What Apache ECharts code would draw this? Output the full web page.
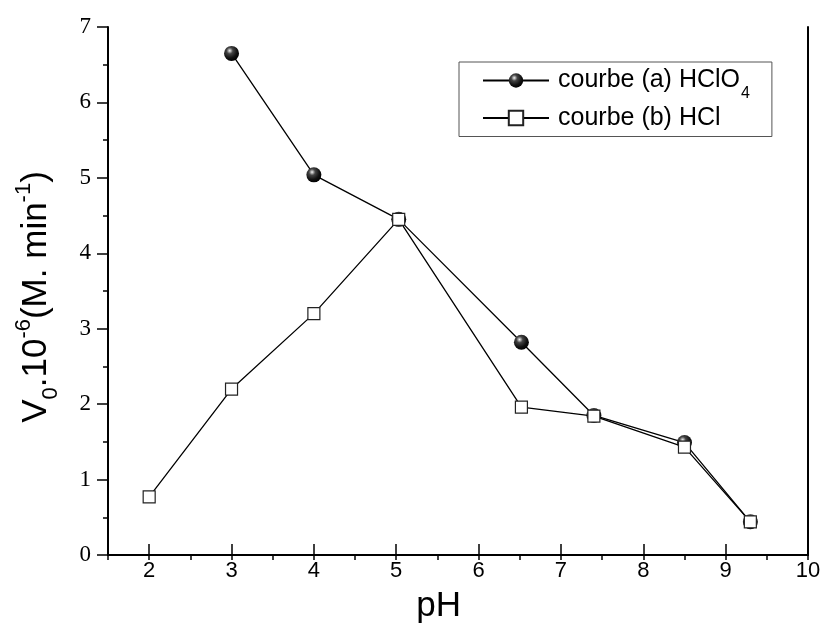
<!DOCTYPE html>
<html>
<head>
<meta charset="utf-8">
<script src="https://cdn.jsdelivr.net/npm/echarts@6/dist/echarts.min.js"></script>
<style>
  html, body { margin: 0; padding: 0; background: #fff; }
  #chart { width: 824px; height: 629px; }
</style>
</head>
<body>
<div id="chart"></div>
<script>
// data
var phA = [3, 4, 5.03, 6.52, 7.4, 8.5, 9.3];
var vA = [6.65, 5.04, 4.45, 2.82, 1.85, 1.49, 0.44];
var phB = [2, 3, 4, 5.03, 6.52, 7.4, 8.5, 9.3];
var vB = [0.77, 2.2, 3.2, 4.45, 1.96, 1.84, 1.43, 0.44];
var nameA = 'courbe (a) HClO4';
var nameB = 'courbe (b) HCl';

var pairs = function (xs, ys) {
    return xs.map(function (x, i) { return [x, ys[i]]; });
};

var myChart = echarts.init(document.getElementById('chart'));

var gLeft = 108, gRight = 16, gTop = 27, gBottom = 74;
var plotW = 824 - gLeft - gRight;
var xMin = 1.5, xMax = 10;
// second grid starts at x = 2 so integer ticks/labels line up with the main scale
var shift = (2 - xMin) / (xMax - xMin) * plotW;

var ball = {
    type: 'radial', x: 0.38, y: 0.32, r: 0.7,
    colorStops: [
        {offset: 0, color: '#f4f4f4'},
        {offset: 0.3, color: '#444'},
        {offset: 0.7, color: '#111'},
        {offset: 1, color: '#000'}
    ]
};

var option = {
    animation: false,
    backgroundColor: '#fff',
    grid: [
        {left: gLeft, right: gRight, top: gTop, bottom: gBottom},
        {left: gLeft + shift, right: gRight, top: gTop, bottom: gBottom}
    ],
    legend: {
        orient: 'vertical',
        left: 459,
        top: 62,
        padding: [6, 22, 6, 23],
        itemGap: 4,
        itemWidth: 66,
        itemHeight: 18,
        borderColor: '#555',
        borderWidth: 1,
        data: [nameA, nameB],
        formatter: function (n) {
            if (n === nameA) {
                return '{t|courbe (a) HClO}{s|4}';
            }
            return '{t|' + n + '}';
        },
        textStyle: {
            color: '#000',
            padding: [0, 0, 0, 4],
            rich: {
                t: {fontFamily: 'Liberation Sans', fontSize: 25, color: '#000', lineHeight: 30},
                s: {fontFamily: 'Liberation Sans', fontSize: 16, color: '#000', verticalAlign: 'bottom', lineHeight: 16, padding: [0, 0, -6, 1]}
            }
        }
    },
    xAxis: [{
        // main scale, half-unit ticks
        type: 'value', gridIndex: 0,
        min: xMin, max: xMax, interval: 0.5,
        axisLine: {show: true, lineStyle: {color: '#000', width: 2}},
        axisTick: {show: true, length: 5, lineStyle: {color: '#000', width: 1.5}},
        axisLabel: {show: false},
        splitLine: {show: false}
    }, {
        // integer ticks and labels
        type: 'value', gridIndex: 1,
        min: 2, max: xMax, interval: 1,
        axisLine: {show: false},
        axisTick: {show: true, length: 10, lineStyle: {color: '#000', width: 1.5}},
        axisLabel: {show: true, margin: 16, color: '#000', fontFamily: 'Liberation Sans', fontSize: 22},
        splitLine: {show: false},
        name: 'pH',
        nameLocation: 'middle',
        nameGap: 45,
        nameTextStyle: {color: '#000', fontFamily: 'Liberation Sans', fontSize: 35, padding: [0, 80, 0, 0]}
    }, {
        // top frame line
        type: 'value', gridIndex: 0, position: 'top',
        min: xMin, max: xMax,
        axisLine: {show: true, lineStyle: {color: '#000', width: 2}},
        axisTick: {show: false}, axisLabel: {show: false}, splitLine: {show: false}
    }],
    yAxis: [{
        type: 'value', gridIndex: 0,
        min: 0, max: 7, interval: 1,
        axisLine: {show: true, lineStyle: {color: '#000', width: 2}},
        axisTick: {show: true, length: 11, lineStyle: {color: '#000', width: 1.5}},
        minorTick: {show: true, splitNumber: 2, length: 5, lineStyle: {color: '#000', width: 1.5}},
        axisLabel: {margin: 17, color: '#000', fontFamily: 'Liberation Serif', fontSize: 23},
        splitLine: {show: false},
        name: '{b|V}{sub|0}{b|.10}{sup|-6}{b|(M. min}{sup|-1}{b|)}',
        nameLocation: 'middle',
        nameGap: 52,
        nameTextStyle: {
            color: '#000',
            padding: [0, 12, 0, 0],
            rich: {
                b: {fontFamily: 'Liberation Sans', fontSize: 35, color: '#000', lineHeight: 40},
                sub: {fontFamily: 'Liberation Sans', fontSize: 22, color: '#000', verticalAlign: 'bottom', lineHeight: 22, padding: [0, 0, -6, 0]},
                sup: {fontFamily: 'Liberation Sans', fontSize: 22, color: '#000', verticalAlign: 'top', lineHeight: 22, padding: [-3, 0, 0, 0]}
            }
        }
    }, {
        // right frame line
        type: 'value', gridIndex: 0, position: 'right',
        min: 0, max: 7,
        axisLine: {show: true, lineStyle: {color: '#000', width: 2}},
        axisTick: {show: false}, axisLabel: {show: false}, splitLine: {show: false}
    }, {
        type: 'value', gridIndex: 1,
        min: 0, max: 7, show: false
    }],
    series: [{
        name: nameA,
        type: 'line',
        xAxisIndex: 0, yAxisIndex: 0,
        data: pairs(phA, vA),
        symbol: 'circle',
        symbolSize: 15,
        lineStyle: {color: '#000', width: 1.3},
        itemStyle: {color: ball, borderWidth: 0},
        z: 2
    }, {
        name: nameB,
        type: 'line',
        xAxisIndex: 0, yAxisIndex: 0,
        data: pairs(phB, vB),
        symbol: 'rect',
        symbolSize: 12,
        lineStyle: {color: '#000', width: 1.3},
        itemStyle: {color: '#fff', borderColor: '#222', borderWidth: 1.2},
        z: 3
    }]
};

myChart.setOption(option);
</script>
</body>
</html>
